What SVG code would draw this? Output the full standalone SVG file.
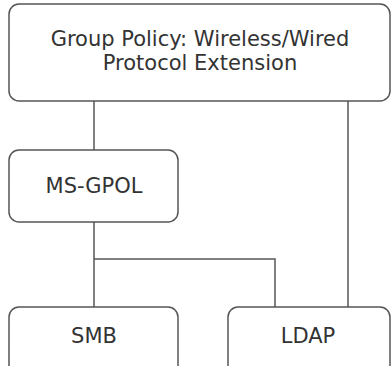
<svg xmlns="http://www.w3.org/2000/svg" width="391" height="366" viewBox="0 0 391 366">
<style>
.box{fill:#fff;stroke:#555;stroke-width:1.5}
.lbl{font-family:"DejaVu Sans",Verdana,sans-serif;font-size:21px;fill:#333;text-anchor:middle}
.conn{fill:none;stroke:#555;stroke-width:1.5}
</style>
<rect width="391" height="366" fill="#fff"/>
<g id="connectors">
<path class="conn" d="M94 101V150"/>
<path class="conn" d="M348 101V307"/>
<path class="conn" d="M94 222V307"/>
<path class="conn" d="M94 259H275V307"/>
</g>
<g id="gp">
<rect class="box" x="9" y="4" width="381" height="97" rx="10"/>
<text class="lbl" x="200" y="46">Group Policy: Wireless/Wired</text>
<text class="lbl" x="200" y="70">Protocol Extension</text>
</g>
<g id="msgpol">
<rect class="box" x="9" y="150" width="169" height="72" rx="10"/>
<text class="lbl" x="94" y="193">MS-GPOL</text>
</g>
<g id="smb">
<rect class="box" x="9" y="307" width="169" height="70" rx="10"/>
<text class="lbl" x="94" y="343">SMB</text>
</g>
<g id="ldap">
<rect class="box" x="228" y="307" width="162" height="70" rx="10"/>
<text class="lbl" x="308" y="343">LDAP</text>
</g>
</svg>
